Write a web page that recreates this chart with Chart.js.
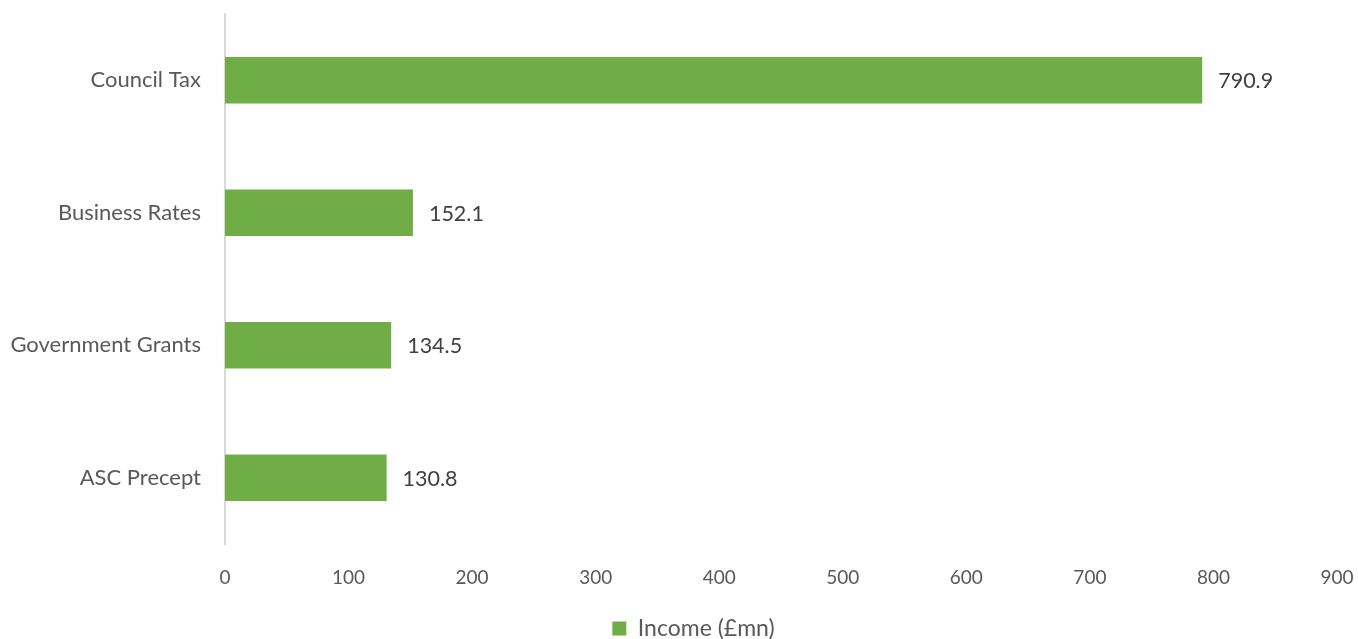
<!DOCTYPE html>
<html>
<head>
<meta charset="utf-8">
<script src="https://cdn.jsdelivr.net/npm/chart.js@4"></script>
<style>
html,body{margin:0;padding:0;background:#fff;}
#wrap{width:1358px;height:639px;position:relative;}
</style>
</head>
<body>
<div id="wrap"><canvas id="c"></canvas></div>
<script>
const categories = ["Council Tax", "Business Rates", "Government Grants", "ASC Precept"];
const income = [790.9, 152.1, 134.5, 130.8];
const seriesName = "Income (£mn)";
const xMin = 0, xMax = 900, xStep = 100;

const FONT = "Lato";
const labelPlugin = {
  id: 'valueLabels',
  afterLayout(chart) {
    if (chart.legend) { chart.legend.left += 25; chart.legend.right += 25; }
  },
  afterDatasetsDraw(chart) {
    const ctx = chart.ctx;
    const meta = chart.getDatasetMeta(0);
    ctx.save();
    ctx.font = "21.5px " + FONT;
    ctx.fillStyle = "#404040";
    ctx.textAlign = "left";
    ctx.textBaseline = "middle";
    meta.data.forEach((bar, i) => {
      ctx.fillText(income[i].toFixed(1), bar.x + 16, bar.y + 1);
    });
    ctx.restore();
  }
};

function zeroPad(scale) {
  scale.paddingTop = 0; scale.paddingBottom = 0;
  scale.paddingLeft = 0; scale.paddingRight = 0;
}

new Chart(document.getElementById('c'), {
  type: 'bar',
  data: {
    labels: categories,
    datasets: [{
      label: seriesName,
      data: income,
      backgroundColor: "#70AD47",
      borderWidth: 0,
      categoryPercentage: 1,
      barPercentage: 0.35
    }]
  },
  options: {
    indexAxis: 'y',
    responsive: true,
    maintainAspectRatio: false,
    animation: false,
    layout: { padding: { top: 14, right: 21, left: 0, bottom: -11 } },
    scales: {
      x: {
        min: xMin, max: xMax,
        grid: { display: false, drawTicks: false },
        border: { display: false },
        ticks: { stepSize: xStep, color: "#595959", font: { family: FONT, size: 19 }, padding: 22 },
        afterFit(scale) { scale.height = 73; zeroPad(scale); }
      },
      y: {
        grid: { display: false, drawTicks: false },
        border: { display: true, color: "#d9d9d9", width: 2 },
        ticks: { color: "#595959", font: { family: FONT, size: 22 }, padding: 24 },
        afterFit(scale) { scale.width = 225; zeroPad(scale); }
      }
    },
    plugins: {
      legend: {
        position: 'bottom',
        labels: {
          color: "#595959",
          font: { family: FONT, size: 23 },
          boxWidth: 14, boxHeight: 14,
          padding: 0
        }
      },
      tooltip: { enabled: false }
    }
  },
  plugins: [labelPlugin]
});
</script>
</body>
</html>
